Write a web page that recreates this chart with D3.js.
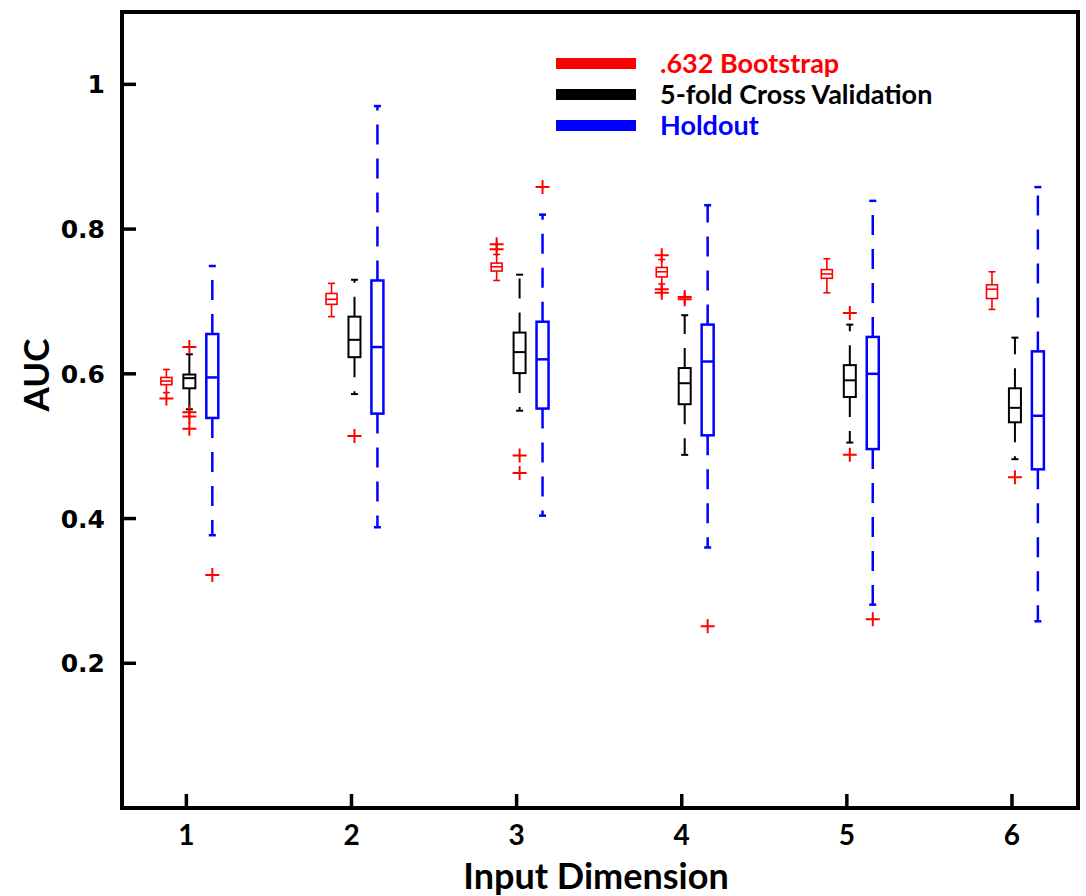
<!DOCTYPE html>
<html>
<head>
<meta charset="utf-8">
<script src="https://cdn.jsdelivr.net/npm/d3@7"></script>
<style>
  html, body { margin: 0; padding: 0; background: #fff; }
  svg { display: block; }
</style>
</head>
<body>
<div id="chart"></div>
<script>
// groups on the x axis
const dims = [1, 2, 3, 4, 5, 6];
const yTicks = [0.2, 0.4, 0.6, 0.8, 1];

// .632 Bootstrap (red)
const bootLo  = [0.574, 0.679, 0.729, 0.724, 0.712, 0.689];
const bootQ1  = [0.585, 0.696, 0.742, 0.734, 0.732, 0.704];
const bootMed = [0.590, 0.703, 0.748, 0.741, 0.738, 0.717];
const bootQ3  = [0.595, 0.711, 0.753, 0.747, 0.744, 0.723];
const bootHi  = [0.606, 0.725, 0.765, 0.758, 0.759, 0.741];
const bootOut = [[0.566], [], [0.772, 0.779], [0.764, 0.717, 0.712], [], []];

// 5-fold Cross Validation (black)
const cvLo  = [0.551, 0.572, 0.549, 0.488, 0.505, 0.482];
const cvQ1  = [0.580, 0.623, 0.601, 0.558, 0.568, 0.533];
const cvMed = [0.594, 0.647, 0.630, 0.587, 0.591, 0.553];
const cvQ3  = [0.599, 0.679, 0.657, 0.608, 0.612, 0.580];
const cvHi  = [0.627, 0.730, 0.737, 0.681, 0.668, 0.650];
const cvOut = [[0.637, 0.547, 0.541, 0.524], [0.514], [0.487, 0.463], [0.706, 0.703], [0.684, 0.488], [0.457]];

// Holdout (blue)
const holdLo  = [0.377, 0.388, 0.404, 0.360, 0.281, 0.258];
const holdQ1  = [0.539, 0.545, 0.552, 0.515, 0.496, 0.468];
const holdMed = [0.595, 0.637, 0.620, 0.617, 0.600, 0.542];
const holdQ3  = [0.655, 0.729, 0.672, 0.668, 0.651, 0.631];
const holdHi  = [0.749, 0.970, 0.820, 0.833, 0.839, 0.858];
const holdOut = [[0.322], [], [0.858], [0.251], [0.261], []];

const seriesNames = [".632 Bootstrap", "5-fold Cross Validation", "Holdout"];

const width = 1086, height = 896;
const plotL = 122, plotR = 1078, plotT = 12, plotB = 808;

const series = [
  { name: seriesNames[0], color: "#ff0000", off: -0.121, lw: 1.6, boxW: 11, lo: bootLo, q1: bootQ1, med: bootMed, q3: bootQ3, hi: bootHi, out: bootOut },
  { name: seriesNames[1], color: "#000000", off: 0.018, lw: 2, boxW: 12, lo: cvLo, q1: cvQ1, med: cvMed, q3: cvQ3, hi: cvHi, out: cvOut },
  { name: seriesNames[2], color: "#0000ff", off: 0.157, lw: 2.5, boxW: 12, lo: holdLo, q1: holdQ1, med: holdMed, q3: holdQ3, hi: holdHi, out: holdOut }
];

const x = d3.scaleLinear().domain([0.61, 6.4]).range([plotL, plotR]);
const y = d3.scaleLinear().domain([0, 1.1]).range([plotB, plotT]);

const svg = d3.select("#chart").append("svg")
  .attr("width", width)
  .attr("height", height);

// boxes
series.forEach(s => {
  const g = svg.append("g").attr("stroke", s.color).attr("fill", "none");
  dims.forEach((d, i) => {
    const cx = x(d + s.off);
    const hw = s.boxW / 2;
    // whiskers (dashed)
    g.append("line")
      .attr("x1", cx).attr("x2", cx)
      .attr("y1", y(s.q3[i])).attr("y2", y(s.hi[i]))
      .attr("stroke-width", s.lw)
      .attr("stroke-dasharray", "20,14");
    g.append("line")
      .attr("x1", cx).attr("x2", cx)
      .attr("y1", y(s.q1[i])).attr("y2", y(s.lo[i]))
      .attr("stroke-width", s.lw)
      .attr("stroke-dasharray", "20,14");
    // caps
    [s.lo[i], s.hi[i]].forEach(v => {
      g.append("line")
        .attr("x1", cx - 3.5).attr("x2", cx + 3.5)
        .attr("y1", y(v)).attr("y2", y(v))
        .attr("stroke-width", s.lw);
    });
    // box
    g.append("rect")
      .attr("x", cx - hw)
      .attr("y", y(s.q3[i]))
      .attr("width", s.boxW)
      .attr("height", y(s.q1[i]) - y(s.q3[i]))
      .attr("stroke-width", s.lw);
    // median
    g.append("line")
      .attr("x1", cx - hw).attr("x2", cx + hw)
      .attr("y1", y(s.med[i])).attr("y2", y(s.med[i]))
      .attr("stroke-width", s.lw);
    // outliers (red +)
    s.out[i].forEach(v => {
      const oy = y(v);
      g.append("path")
        .attr("d", `M${cx - 7},${oy}H${cx + 7}M${cx},${oy - 7}V${oy + 7}`)
        .attr("stroke", "#ff0000")
        .attr("stroke-width", 2);
    });
  });
});

// frame
svg.append("rect")
  .attr("x", plotL).attr("y", plotT)
  .attr("width", plotR - plotL).attr("height", plotB - plotT)
  .attr("fill", "none")
  .attr("stroke", "#000")
  .attr("stroke-width", 4);

// y axis ticks
const yAxis = svg.append("g");
yTicks.forEach(t => {
  yAxis.append("line")
    .attr("x1", plotL).attr("x2", plotL + 14)
    .attr("y1", y(t)).attr("y2", y(t))
    .attr("stroke", "#000").attr("stroke-width", 3.5);
  yAxis.append("text")
    .attr("x", plotL - 17)
    .attr("y", y(t))
    .attr("dy", "0.36em")
    .attr("text-anchor", "end")
    .attr("font-family", "DejaVu Sans")
    .attr("font-weight", "bold")
    .attr("font-size", 25)
    .text(d3.format("")(t));
});

// x axis ticks
const xAxis = svg.append("g");
dims.forEach(d => {
  xAxis.append("line")
    .attr("x1", x(d)).attr("x2", x(d))
    .attr("y1", plotB).attr("y2", plotB - 14)
    .attr("stroke", "#000").attr("stroke-width", 3.5);
  xAxis.append("text")
    .attr("x", x(d))
    .attr("y", plotB + 37)
    .attr("text-anchor", "middle")
    .attr("font-family", "Lato")
    .attr("font-weight", "bold")
    .attr("font-size", 28)
    .text(d);
});

// axis titles
svg.append("text")
  .attr("x", 596)
  .attr("y", 889)
  .attr("text-anchor", "middle")
  .attr("font-family", "Lato")
  .attr("font-weight", "bold")
  .attr("font-size", 36)
  .text("Input Dimension");

svg.append("text")
  .attr("transform", `translate(49,${(plotT + plotB) / 2 - 35}) rotate(-90)`)
  .attr("text-anchor", "middle")
  .attr("font-family", "Lato")
  .attr("font-weight", "bold")
  .attr("font-size", 35)
  .text("AUC");

// legend
const legend = svg.append("g");
series.forEach((s, i) => {
  const ly = 63 + i * 31;
  legend.append("rect")
    .attr("x", 556).attr("y", ly - 5)
    .attr("width", 80).attr("height", 11)
    .attr("fill", s.color);
  legend.append("text")
    .attr("x", 660).attr("y", ly + 10)
    .attr("fill", s.color)
    .attr("font-family", "Lato")
    .attr("font-weight", "bold")
    .attr("font-size", 27)
    .text(s.name);
});
</script>
</body>
</html>
